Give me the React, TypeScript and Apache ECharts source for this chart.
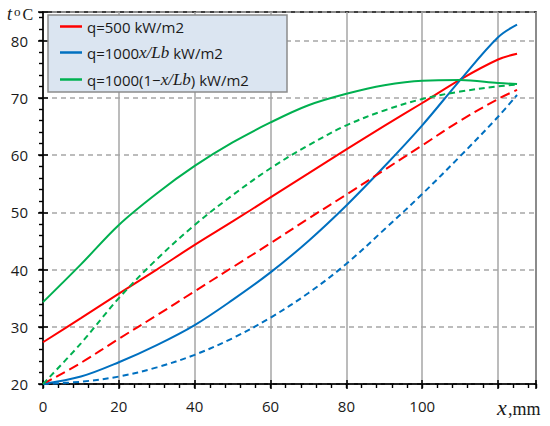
import React, { useEffect, useRef } from "react";
import * as echarts from "echarts";

// x positions along the channel, mm
const xs = [0, 10, 20, 30, 40, 50, 60, 70, 80, 90, 100, 110, 120, 125];

// solid curves (wall temperature)
const redSolid = [27.3, 31.5, 35.8, 40.0, 44.3, 48.4, 52.6, 56.8, 61.0, 65.1, 69.1, 73.2, 76.7, 77.7];
const blueSolid = [20.0, 21.3, 23.8, 26.8, 30.3, 34.7, 39.5, 45.0, 51.2, 58.0, 65.2, 73.1, 80.6, 82.8];
const greenSolid = [34.3, 40.9, 47.8, 53.3, 58.1, 62.2, 65.7, 68.7, 70.7, 72.2, 73.0, 73.1, 72.6, 72.4];

// dashed curves (fluid temperature)
const redDashed = [20.0, 23.7, 27.9, 32.0, 36.2, 40.4, 44.6, 48.9, 53.1, 57.4, 61.7, 66.0, 69.8, 71.4];
const blueDashed = [20.0, 20.4, 21.3, 22.9, 25.1, 28.0, 31.6, 35.9, 41.0, 47.0, 53.2, 59.8, 66.7, 70.5];
const greenDashed = [20.0, 27.1, 35.0, 41.8, 47.8, 53.0, 57.7, 61.7, 65.2, 67.8, 69.8, 71.1, 72.0, 72.3];

const seriesNames = ["q=500 kW/m2", "q=1000x/Lb kW/m2", "q=1000(1\u2212x/Lb) kW/m2"];
const xTickLabels = ["0", "20", "40", "60", "80", "100"];
const yTickLabels = ["20", "30", "40", "50", "60", "70", "80"];

const RED = "#ff0000";
const BLUE = "#0070c0";
const GREEN = "#00b050";
const GRID_GRAY = "#a6a6a6";
const TXT = "#1a1a1a";

const pts = (ys: number[]) => xs.map((x, i) => [x, ys[i]]);

export default function App() {
  const ref = useRef<HTMLDivElement>(null);
  useEffect(() => {
    const chart = echarts.init(ref.current!, null, { renderer: "svg" });
    const tickFont = { fontFamily: "Open Sans", fontSize: 15, color: TXT };
    const baseX = { type: "value", min: 0, max: 130, gridIndex: 0, position: "bottom", offset: 0 };
    const baseY = { type: "value", min: 20, max: 85, gridIndex: 0, position: "left", offset: 0 };
    const hiddenLine = { show: true, lineStyle: { color: "#000", width: 0.01, opacity: 0 } };
    const line = (name: string, data: number[], color: string, type: any) => ({
      name,
      type: "line",
      data: pts(data),
      smooth: 0.35,
      symbol: "none",
      z: 5,
      lineStyle: { color, width: 2, type, cap: "butt" },
      itemStyle: { color },
    });
    chart.setOption({
      animation: false,
      backgroundColor: "#ffffff",
      grid: {
        left: 43,
        top: 12,
        right: 14,
        bottom: 42,
        show: true,
        borderColor: "#000",
        borderWidth: 1.5,
        backgroundColor: "transparent",
      },
      xAxis: [
        {
          ...baseX,
          interval: 20,
          axisLine: { show: true, lineStyle: { color: "#000", width: 1.5 } },
          axisTick: { show: true, inside: false, length: 5, lineStyle: { color: "#000", width: 1.5 } },
          axisLabel: {
            ...tickFont,
            margin: 14,
            formatter: (v: number) => (xTickLabels.includes(String(v)) ? String(v) : ""),
          },
          splitLine: { show: true, lineStyle: { color: GRID_GRAY, width: 1.5, type: "solid" } },
        },
        {
          ...baseX,
          interval: 20,
          axisLine: hiddenLine,
          axisTick: { show: true, inside: true, length: 4, lineStyle: { color: "#000", width: 1.5 } },
          axisLabel: { show: false },
          splitLine: { show: false },
        },
        {
          ...baseX,
          interval: 4,
          axisLine: hiddenLine,
          axisTick: { show: true, inside: false, length: 4, lineStyle: { color: "#000", width: 1.4 } },
          axisLabel: { show: false },
          splitLine: { show: false },
        },
      ],
      yAxis: [
        {
          ...baseY,
          interval: 10,
          axisLine: { show: true, lineStyle: { color: "#000", width: 1.5 } },
          axisTick: { show: true, inside: false, length: 5, lineStyle: { color: "#000", width: 1.5 } },
          axisLabel: {
            ...tickFont,
            margin: 15,
            formatter: (v: number) => (yTickLabels.includes(String(v)) ? String(v) : ""),
          },
          splitLine: { show: true, lineStyle: { color: GRID_GRAY, width: 1.5, type: [5, 4] } },
        },
        {
          ...baseY,
          interval: 10,
          axisLine: hiddenLine,
          axisTick: { show: true, inside: true, length: 5, lineStyle: { color: "#000", width: 1.5 } },
          axisLabel: { show: false },
          splitLine: { show: false },
        },
        {
          ...baseY,
          interval: 2,
          axisLine: hiddenLine,
          axisTick: { show: true, inside: false, length: 4, lineStyle: { color: "#000", width: 1.4 } },
          axisLabel: { show: false },
          splitLine: { show: false },
        },
      ],
      legend: {
        data: seriesNames,
        orient: "vertical",
        left: 60,
        top: 19,
        padding: 0,
        icon: "rect",
        itemWidth: 22,
        itemHeight: 2.5,
        itemGap: 10,
        textGap: 5,
        z: 10,
        selectedMode: false,
        formatter: (name: string) => {
          if (name === seriesNames[1]) return "{n|q=1000}{i|x/Lb}{n| kW/m2}";
          if (name === seriesNames[2]) return "{n|q=1000(1\u2212}{i|x/Lb}{n|) kW/m2}";
          return "{n|" + name + "}";
        },
        textStyle: {
          fontFamily: "Open Sans",
          fontSize: 15,
          color: TXT,
          rich: {
            n: { fontFamily: "Open Sans", fontSize: 15, color: TXT, lineHeight: 16 },
            i: { fontFamily: "Liberation Serif", fontStyle: "italic", fontSize: 17, color: TXT, lineHeight: 16 },
          },
        },
      },
      graphic: [
        {
          type: "rect",
          z: 8,
          shape: { x: 48, y: 15, width: 239, height: 77 },
          style: { fill: "#dbe5f1", stroke: "#8c8c8c", lineWidth: 1.5 },
        },
        {
          type: "text",
          x: 7,
          y: 14.4,
          style: { text: "t", font: 'italic 18px "Liberation Serif"', fill: TXT, verticalAlign: "middle" },
        },
        {
          type: "text",
          x: 14,
          y: 11.7,
          style: { text: "o", font: '13px "Liberation Serif"', fill: TXT, verticalAlign: "middle" },
        },
        {
          type: "text",
          x: 22.5,
          y: 14.7,
          style: { text: "C", font: '16px "Liberation Serif"', fill: TXT, verticalAlign: "middle" },
        },
        {
          type: "text",
          x: 497,
          y: 407.7,
          style: { text: "x", font: 'italic 22px "Liberation Serif"', fill: TXT, verticalAlign: "middle" },
        },
        {
          type: "text",
          x: 508,
          y: 409,
          style: { text: ",mm", font: '18px "Liberation Serif"', fill: TXT, verticalAlign: "middle" },
        },
      ],
      series: [
        line(seriesNames[0], redSolid, RED, "solid"),
        line(seriesNames[1], blueSolid, BLUE, "solid"),
        line(seriesNames[2], greenSolid, GREEN, "solid"),
        line("q=500 kW/m2 (dashed)", redDashed, RED, [10, 5]),
        line("q=1000x/Lb kW/m2 (dashed)", blueDashed, BLUE, [6, 4]),
        line("q=1000(1\u2212x/Lb) kW/m2 (dashed)", greenDashed, GREEN, [6, 4]),
      ],
    });
    return () => chart.dispose();
  }, []);
  return (
    <div
      ref={ref}
      style={{ position: "absolute", left: 0, top: 0, width: 550, height: 426, background: "#fff" }}
    />
  );
}
